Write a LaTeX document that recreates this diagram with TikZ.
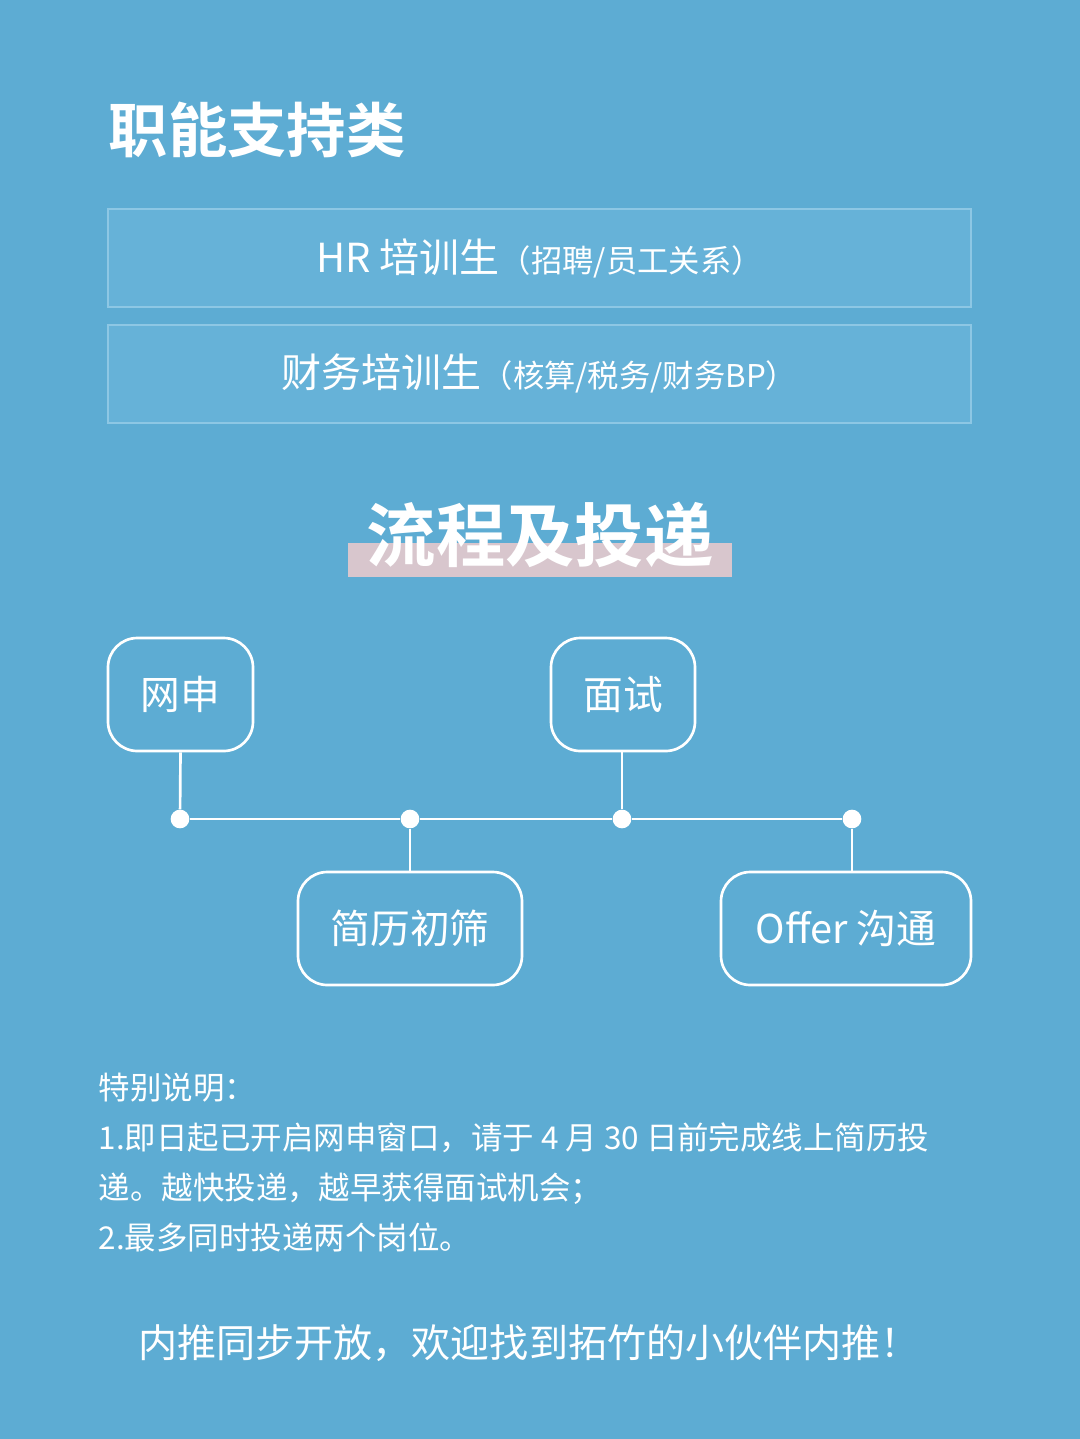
\documentclass[tikz,border=0pt]{standalone}
\usepackage{fontspec}
\setmainfont{Noto Sans CJK SC}
\newfontfamily\cjkb{Noto Sans CJK SC Bold}
\begin{document}
\begin{tikzpicture}[x=0.75pt,y=-0.75pt,
  role/.style={draw=boxline,fill=boxfill,line width=1.5pt,minimum width=863*0.75pt,minimum height=98*0.75pt,inner sep=0pt,text=white},
  stepbox/.style={draw=white,line width=2pt,rounded corners=22pt,inner sep=0pt,text=white,font=\fontsize{29.8}{33}\selectfont},
  conn/.style={white,line width=2pt},
  dot/.style={circle,fill=white,inner sep=0pt,minimum size=14pt}]
\definecolor{bg}{HTML}{5DACD3}
\definecolor{boxfill}{HTML}{66B2D8}
\definecolor{boxline}{HTML}{8DC7E4}
\definecolor{pinkbar}{HTML}{D8C6CD}
\fill[bg] (0,0) rectangle (1080,1439);
\useasboundingbox (0,0) rectangle (1080,1439);
\node[anchor=west,text=white,font=\cjkb\fontsize{44.5}{48}\selectfont] (title) at (104,130) {职能支持类};
\node[role] (hr) at (539.5,258) {\fontsize{30}{33}\selectfont HR 培训生\fontsize{23.5}{26}\selectfont（招聘/员工关系）};
\node[role] (fin) at (539.5,373.5) {\fontsize{30}{33}\selectfont 财务培训生\fontsize{23.5}{26}\selectfont（核算/税务/财务BP）};
\fill[pinkbar] (348,543) rectangle (732,577);
\node[text=white,font=\cjkb\fontsize{52}{56}\selectfont] (flow) at (540,535) {流程及投递};
\node[stepbox,minimum width=145*0.75pt,minimum height=113*0.75pt] (wang) at (180.5,694.5) {网申};
\node[stepbox,minimum width=144*0.75pt,minimum height=113*0.75pt] (mian) at (623,694.5) {面试};
\node[stepbox,minimum width=224*0.75pt,minimum height=113*0.75pt] (jian) at (410,928.5) {简历初筛};
\node[stepbox,minimum width=250*0.75pt,minimum height=113*0.75pt] (offer) at (846,928.5) {Offer 沟通};
\node[dot] (d1) at (180,819) {};
\node[dot] (d2) at (410,819) {};
\node[dot] (d3) at (622,819) {};
\node[dot] (d4) at (852,819) {};
\draw[conn] (d1) -- (d2) -- (d3) -- (d4);
\draw[conn] (wang.south) -- (d1);
\draw[conn] (d3) -- (d3 |- mian.south);
\draw[conn] (d2) -- (jian.north);
\draw[conn] (d4) -- (d4 |- offer.north);
\node[anchor=north west,text=white,align=left,font=\fontsize{23.6}{37.5}\selectfont] (note) at (94,1068) {特别说明：\\1.即日起已开启网申窗口，请于 4 月 30 日前完成线上简历投\\递。越快投递，越早获得面试机会；\\2.最多同时投递两个岗位。};
\node[text=white,font=\fontsize{29.3}{32}\selectfont] (push) at (529,1343) {内推同步开放，欢迎找到拓竹的小伙伴内推！};
\end{tikzpicture}
\end{document}
